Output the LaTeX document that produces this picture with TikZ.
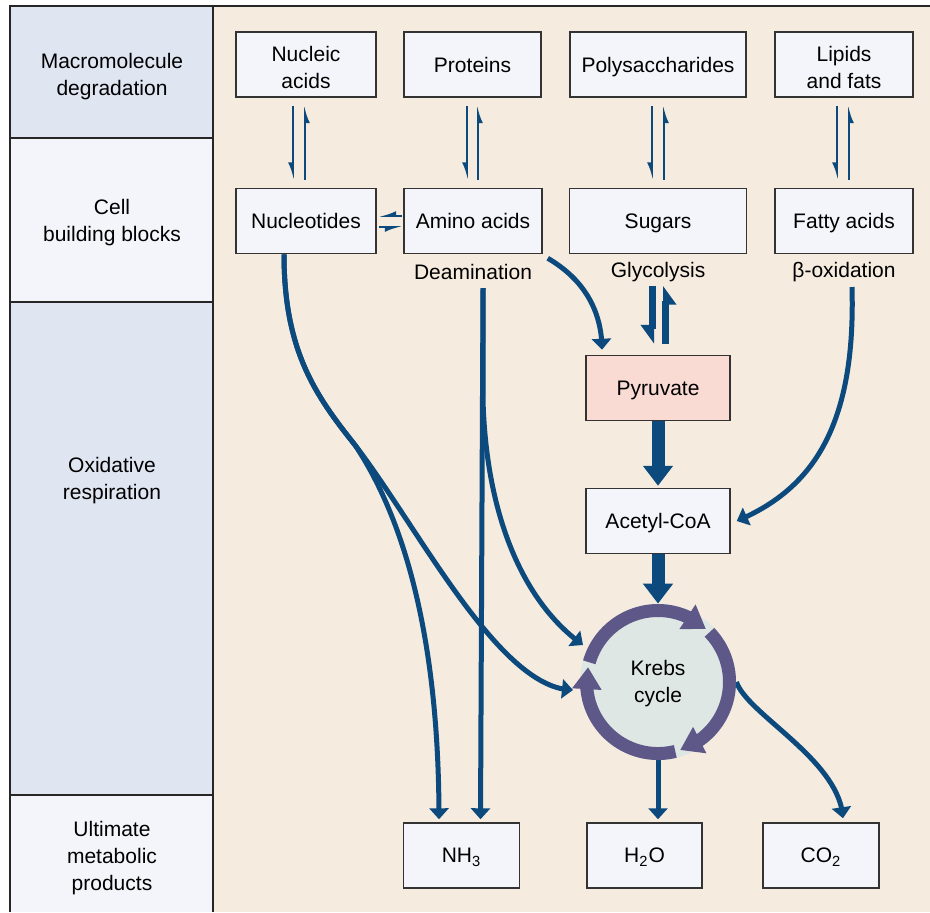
\documentclass[tikz,border=0pt]{standalone}
\usepackage{fontspec}
\setmainfont{Liberation Sans}
\usetikzlibrary{arrows.meta,calc,bending}

\definecolor{bandA}{HTML}{DFE5F1}
\definecolor{bandB}{HTML}{F4F5FA}
\definecolor{panel}{HTML}{F5EBDF}
\definecolor{boxfill}{HTML}{F4F5FA}
\definecolor{pyrfill}{HTML}{F9DBD3}
\definecolor{flow}{HTML}{0C4A7E}
\definecolor{ring}{HTML}{5E5889}
\definecolor{krebsfill}{HTML}{DFE7E4}

\begin{document}
\begin{tikzpicture}[
x=0.5pt,
y=-0.5pt,
every node/.style={font=\fontsize{10.5}{13.5}\selectfont},
pbox/.style={rectangle,draw=black!80,line width=0.75pt,fill=boxfill,align=center,inner sep=2pt,minimum height=32.5pt,text depth=0pt},
twoline/.style={text height=23.5pt,text depth=0pt},
lane/.style={align=center,inner sep=1pt},
sublbl/.style={align=center,inner sep=1pt},
rev/.style={draw=flow,line width=0.8pt,-{Latex[harpoon,swap,length=7pt,width=5pt]}},
rxn/.style={draw=flow,line width=2.5pt,-{Triangle[length=5.5pt,width=9.5pt]}},
glyarr/.style={draw=flow,line width=3.5pt,-{Triangle[harpoon,swap,length=8pt,width=11pt]}},
bulk/.style={draw=flow,line width=6.5pt,-{Triangle[length=10pt,width=14.5pt]}},
cyc/.style={draw=ring,line width=6.5pt,-{Triangle[length=11pt,width=14pt]}}
]
\useasboundingbox (0,0) rectangle (930,912);
% lanes and panel
\fill[panel] (213,6) rectangle (930,912);
\fill[bandA] (10,6) rectangle (213,138);
\fill[bandB] (10,138) rectangle (213,302);
\fill[bandA] (10,302) rectangle (213,795);
\fill[bandB] (10,795) rectangle (213,912);
\draw[black!85,line width=0.75pt] (930,6) -- (10,6) -- (10,912);
\draw[black!85,line width=0.75pt] (213,6) -- (213,912);
\draw[black!85,line width=0.75pt] (10,138) -- (213,138);
\draw[black!85,line width=0.75pt] (10,302) -- (213,302);
\draw[black!85,line width=0.75pt] (10,795) -- (213,795);

\node[lane] (lmacro) at (112,77) {Macromolecule\\degradation};
\node[lane] (lblock) at (112,222.5) {Cell\\building blocks};
\node[lane] (lresp) at (112,481) {Oxidative\\respiration};
\node[lane] (lprod) at (112,858) {Ultimate\\metabolic\\products};

\node[pbox,twoline,minimum width=70pt] (nucacid) at (306,64.5) {Nucleic\\acids};
\node[pbox,minimum width=68.5pt] (protein) at (472.5,64.5) {Proteins};
\node[pbox,minimum width=88pt] (polysac) at (658,64.5) {Polysaccharides};
\node[pbox,twoline,minimum width=69pt] (lipid) at (844,64.5) {Lipids\\and fats};
\node[pbox,minimum width=70pt] (nucleo) at (306,221) {Nucleotides};
\node[pbox,minimum width=69pt] (amino) at (473,221) {Amino acids};
\node[pbox,minimum width=88.5pt] (sugar) at (658,221) {Sugars};
\node[pbox,minimum width=69pt] (fatty) at (844,221) {Fatty acids};
\node[sublbl] (deamlbl) at (473,272) {Deamination};
\node[sublbl] (glyclbl) at (658,272) {Glycolysis};
\node[sublbl] (betalbl) at (844,272) {β-oxidation};
\node[pbox,fill=pyrfill,minimum width=72pt] (pyruv) at (658,388) {Pyruvate};
\node[pbox,minimum width=72pt] (acetyl) at (658,521) {Acetyl-CoA};
\node[circle,fill=krebsfill,minimum size=78pt,inner sep=0pt,align=center,text height=20.7pt,text depth=0pt] (krebs) at (658,682) {Krebs\\cycle};
\node[pbox,minimum width=58pt] (nh3) at (461.5,855.5) {NH\textsubscript{3}};
\node[pbox,minimum width=57.5pt] (h2o) at (644.5,855.5) {H\textsubscript{2}O};
\node[pbox,minimum width=58pt] (co2) at (821,855.5) {CO\textsubscript{2}};

\coordinate (deamout) at (483,288);
\coordinate (betaout) at (852,287);
\coordinate (nucsplit) at (355,445);

% degradation and synthesis
\draw[rev] ($(nucacid.south)+(-13,8)$) -- ($(nucleo.north)+(-13,-8)$);
\draw[rev] ($(nucleo.north)+(-1,-8)$) -- ($(nucacid.south)+(-1,8)$);
\draw[rev] ($(protein.south)+(-5.5,8)$) -- ($(amino.north)+(-6,-8)$);
\draw[rev] ($(amino.north)+(5,-8)$) -- ($(protein.south)+(5.5,8)$);
\draw[rev] ($(polysac.south)+(-6,8)$) -- ($(sugar.north)+(-6,-8)$);
\draw[rev] ($(sugar.north)+(6,-8)$) -- ($(polysac.south)+(6,8)$);
\draw[rev] ($(lipid.south)+(-7,8)$) -- ($(fatty.north)+(-7,-8)$);
\draw[rev] ($(fatty.north)+(5,-8)$) -- ($(lipid.south)+(5,8)$);
\draw[rev] ($(amino.west)+(-1,-5)$) -- ($(nucleo.east)+(2,-5)$);
\draw[rev] ($(nucleo.east)+(2,6)$) -- ($(amino.west)+(-1,6)$);

% respiration
\draw[glyarr] ($(pyruv.north)+(-6,-69)$) -- ($(pyruv.north)+(-6,-11)$);
\draw[glyarr] ($(pyruv.north)+(7,-11)$) -- ($(pyruv.north)+(7,-69)$);
\draw[bulk,shorten >=1pt] (pyruv.south) -- (acetyl.north);
\draw[bulk] (acetyl.south) -- (krebs.north);
\draw[rxn] ($(amino.south east)+(5,4)$) .. controls (585,280) and (602,312) .. ($(pyruv.north)+(-56,-5)$);
\draw[rxn] (betaout) .. controls (856,430) and (810,490) .. ($(acetyl.east)+(6,0)$);
\draw[rxn] (deamout) -- ($(nh3.north)+(19,-3)$);
\draw[rxn] (deamout) -- ++(0,112) .. controls (486,510) and (520,600) .. ($(krebs.center)+(-75,-37)$);
\draw[rxn] ($(nucleo.south)+(-22,0)$) .. controls (284,350) and (315,395) .. (nucsplit) .. controls (405,520) and (439,640) .. ($(nh3.north)+(-22.5,-3)$);
\draw[rxn] ($(nucleo.south)+(-22,0)$) .. controls (284,350) and (315,395) .. (nucsplit) .. controls (420,530) and (500,690) .. ($(krebs.center)+(-85,8)$);
\draw[rxn] (krebs.south) -- ($(h2o.north)+(13.5,-3)$);
\draw[rxn] (krebs.east) .. controls (748,715) and (840,760) .. ($(co2.north)+(22,-4)$);

% cycle ring
\draw[cyc] ($(krebs.center)+(-164:71.5)$) arc[start angle=-164,end angle=-48,radius=71.5];
\draw[cyc] ($(krebs.center)+(-44:71.5)$) arc[start angle=-44,end angle=72,radius=71.5];
\draw[cyc] ($(krebs.center)+(76:71.5)$) arc[start angle=76,end angle=192,radius=71.5];
\end{tikzpicture}
\end{document}
